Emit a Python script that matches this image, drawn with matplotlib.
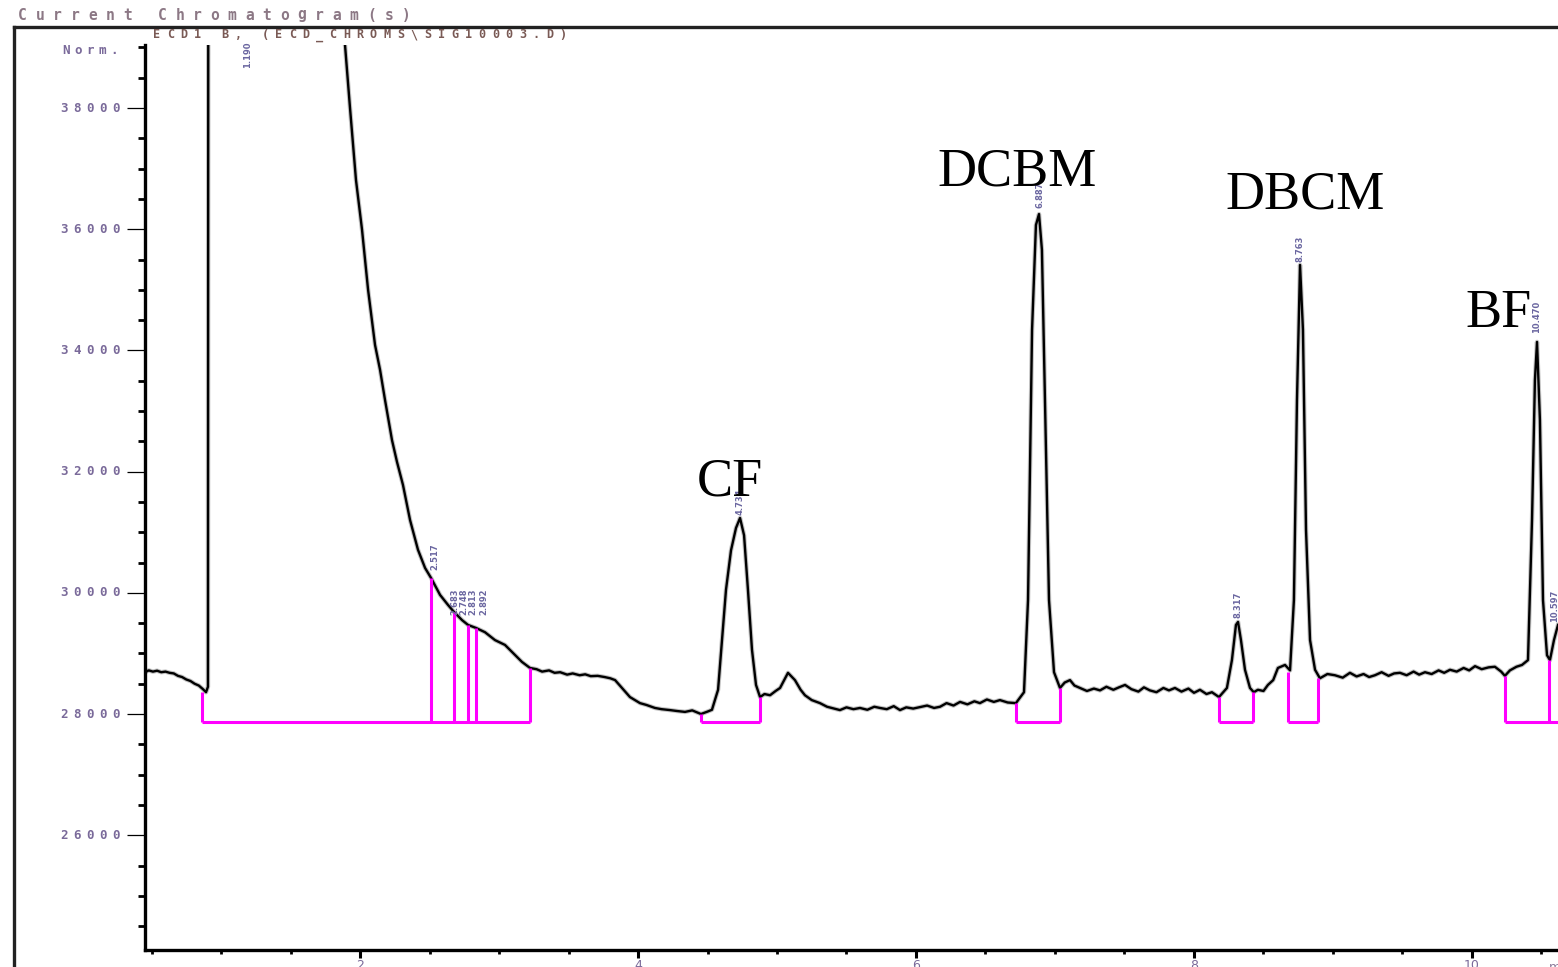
import numpy as np
import matplotlib
matplotlib.use("Agg")
import matplotlib.pyplot as plt
from matplotlib.lines import Line2D
from matplotlib.ticker import MultipleLocator
import matplotlib.transforms as mtransforms

# retention time (min) / detector signal (Norm.)
ret_time = [0.453, 0.48, 0.51, 0.54, 0.57, 0.60, 0.63, 0.66, 0.69, 0.72, 0.75, 0.78, 0.81, 0.84, 0.87, 0.892, 0.906, 0.912,
            1.880, 1.892, 1.928, 1.971, 2.014, 2.058, 2.108, 2.144, 2.180, 2.230, 2.266, 2.309, 2.360, 2.417, 2.468, 2.511,
            2.545, 2.576, 2.633, 2.676, 2.734, 2.777, 2.835, 2.899, 2.971, 3.043, 3.115, 3.165, 3.223,
            3.27, 3.31, 3.36, 3.40, 3.44, 3.49, 3.53, 3.58, 3.62, 3.66, 3.71, 3.76, 3.80, 3.835, 3.885, 3.942,
            4.014, 4.06, 4.122, 4.17, 4.230, 4.28, 4.338, 4.39, 4.453, 4.50, 4.532,
            4.576, 4.604, 4.633, 4.669, 4.705, 4.734, 4.763, 4.791, 4.820, 4.849, 4.878,
            4.91, 4.950, 4.99, 5.022, 5.079, 5.129, 5.17, 5.201, 5.25, 5.309, 5.36, 5.41, 5.453, 5.50, 5.55,
            5.597, 5.65, 5.70, 5.741, 5.79, 5.84, 5.885, 5.93, 5.98, 6.029, 6.08, 6.13, 6.173, 6.22, 6.27,
            6.317, 6.37, 6.42, 6.460, 6.51, 6.56, 6.604, 6.66, 6.719,
            6.777, 6.806, 6.835, 6.863, 6.885, 6.906, 6.928, 6.957, 6.993, 7.036,
            7.07, 7.108, 7.14, 7.180, 7.23, 7.28, 7.324, 7.37, 7.42, 7.46, 7.504, 7.55, 7.60, 7.64, 7.683,
            7.73, 7.78, 7.82, 7.863, 7.91, 7.96, 8.00, 8.043, 8.09, 8.129, 8.180,
            8.237, 8.273, 8.302, 8.317, 8.338, 8.367, 8.403, 8.43, 8.460, 8.50, 8.532, 8.57, 8.604, 8.655, 8.691,
            8.719, 8.741, 8.763, 8.784, 8.806, 8.835, 8.871, 8.906,
            8.96, 9.014, 9.07, 9.122, 9.17, 9.22, 9.26, 9.302, 9.35, 9.40, 9.44, 9.482, 9.53, 9.58, 9.62,
            9.662, 9.71, 9.76, 9.80, 9.842, 9.89, 9.94, 9.98, 10.022, 10.07, 10.12, 10.165, 10.21, 10.237,
            10.273, 10.32, 10.360, 10.403, 10.432, 10.453, 10.468, 10.489, 10.511, 10.540, 10.561, 10.590, 10.619]
signal = [28690, 28720, 28700, 28715, 28690, 28700, 28680, 28670, 28630, 28610, 28570, 28545, 28500, 28470, 28410, 28360, 28450, 60000,
          60000, 39040, 38000, 36810, 36000, 35000, 34090, 33680, 33180, 32520, 32160, 31780, 31200, 30710, 30410, 30245,
          30100, 29965, 29800, 29685, 29550, 29470, 29420, 29350, 29220, 29140, 28975, 28860, 28760,
          28740, 28700, 28720, 28680, 28690, 28650, 28670, 28640, 28655, 28625, 28630, 28610, 28590, 28560, 28430, 28280,
          28180, 28150, 28100, 28080, 28065, 28050, 28035, 28060, 28000, 28040, 28070,
          28400, 29220, 30050, 30700, 31070, 31235, 30950, 30050, 29060, 28480, 28280,
          28330, 28310, 28380, 28430, 28680, 28560, 28400, 28310, 28230, 28180, 28120, 28090, 28065, 28110, 28080,
          28100, 28070, 28120, 28100, 28080, 28130, 28065, 28110, 28090, 28115, 28140, 28100, 28120, 28180, 28140,
          28200, 28160, 28210, 28180, 28240, 28200, 28230, 28190, 28180,
          28360, 29880, 34340, 36070, 36250, 35660, 33180, 29880, 28690, 28430,
          28520, 28560, 28470, 28430, 28380, 28420, 28390, 28450, 28400, 28440, 28480, 28410, 28370, 28440, 28390,
          28360, 28430, 28390, 28430, 28370, 28420, 28350, 28400, 28330, 28360, 28280,
          28430, 28890, 29470, 29520, 29220, 28730, 28430, 28360, 28400, 28380, 28480, 28560, 28760, 28810, 28720,
          29880, 33180, 35410, 34340, 31040, 29220, 28730, 28590,
          28660, 28640, 28600, 28680, 28620, 28660, 28610, 28640, 28690, 28630, 28670, 28680, 28640, 28700, 28650,
          28690, 28660, 28720, 28680, 28730, 28700, 28760, 28720, 28790, 28740, 28770, 28780, 28700, 28630,
          28720, 28780, 28810, 28890, 31200, 33510, 34140, 32850, 29880, 28970, 28890, 29220, 29470]

# integration marks (magenta)
mark_time = [0.863, 2.511, 2.676, 2.777, 2.835, 3.223, 4.453, 4.878, 6.719, 7.036,
             8.180, 8.424, 8.676, 8.892, 10.237, 10.554]
mark_top = [28363, 30244, 29683, 29469, 29419, 28759, 28000, 28281, 28182, 28429,
            28281, 28363, 28693, 28594, 28627, 28891]
base_start = [0.863, 4.453, 6.719, 8.180, 8.676, 10.237]
base_end = [3.223, 4.878, 7.036, 8.424, 8.892, 10.65]
base_level = 27870

# retention time labels above peaks
rt_text = ['1.190', '2.517', '2.683', '2.748', '2.813', '2.892', '4.734', '6.887', '8.317', '8.763', '10.470', '10.597']
rt_x = [1.194, 2.540, 2.683, 2.748, 2.813, 2.892, 4.734, 6.892, 8.317, 8.763, 10.468, 10.597]
rt_y = [38660, 30380, 29630, 29630, 29630, 29630, 31280, 36350, 29580, 35460, 34290, 29520]

# compound names
compounds = ['CF', 'DCBM', 'DBCM', 'BF']
comp_x = [4.424, 6.151, 8.223, 9.950]
comp_y = [31613, 36729, 36349, 34385]

yticks = [26000, 28000, 30000, 32000, 34000, 36000, 38000]
xticks = [2, 4, 6, 8, 10]

W, H = 1558, 967
fig = plt.figure(figsize=(W / 100, H / 100), dpi=100)
ax = fig.add_axes([145 / W, 1 - 950 / H, 1 - 145 / W, (950 - 45) / H])

ax.plot(ret_time, signal, color='#9a9a9a', lw=3.2, alpha=0.6, solid_joinstyle='round')
ax.plot(ret_time, signal, color='black', lw=1.7, solid_joinstyle='round')

mag = '#ff00ff'
ax.vlines(mark_time, base_level, mark_top, color=mag, lw=2.2)
ax.hlines([base_level] * len(base_start), base_start, base_end, color=mag, lw=2.2)

for t, s, y in zip(rt_x, rt_text, rt_y):
    ax.text(t, y, s, rotation=90, ha='center', va='bottom', fontsize=6,
            color='#6a66a0', family='DejaVu Sans', fontweight='bold')

for name, x, y in zip(compounds, comp_x, comp_y):
    ax.text(x, y, name, ha='left', va='baseline', fontsize=39,
            family='Liberation Serif', color='black')

ax.set_xlim(0.453, 10.619)
ax.set_ylim(24106, 39040)
for s in ['top', 'right']:
    ax.spines[s].set_visible(False)
for s in ['left', 'bottom']:
    ax.spines[s].set_linewidth(2.4)

ax.set_yticks(yticks)
ax.yaxis.set_minor_locator(MultipleLocator(500))
ax.tick_params(axis='y', which='major', length=13, width=0.9, labelleft=False)
ax.tick_params(axis='y', which='minor', length=5, width=2.0)
ax.set_xticks(xticks)
ax.set_xticklabels([str(v) for v in xticks])
ax.xaxis.set_minor_locator(MultipleLocator(0.5))
ax.tick_params(axis='x', which='major', length=6, width=2.2, pad=0.5, labelsize=9, labelcolor='#7a6a9a')
ax.tick_params(axis='x', which='minor', length=3, width=2.0)
ax.text(10.55, -0.012, 'min', transform=mtransforms.blended_transform_factory(ax.transData, ax.transAxes),
        ha='left', va='top', fontsize=9, color='#8a7a9a')


def spaced(x0, x1, y, s, trans, color, size):
    # stretched screen-font look: spread characters evenly between x0 and x1 (pixels)
    step = (x1 - x0) / len(s)
    for i, ch in enumerate(s):
        fig.text(x0 + step * (i + 0.5), y, ch, transform=trans, ha='center', va='center',
                 fontsize=size, color=color, family='DejaVu Sans Mono', fontweight='bold')


pix = mtransforms.Affine2D().scale(1, -1).translate(0, H)
pix_y = mtransforms.blended_transform_factory(mtransforms.IdentityTransform(), ax.transData)

spaced(14, 415, 15, 'Current Chromatogram(s)', pix, '#8c7885', 10.5)
spaced(150, 570, 35, 'ECD1 B, (ECD_CHROMS\\SIG10003.D)', pix, '#7a5a55', 8.5)
spaced(60, 120, 50, 'Norm.', pix, '#7a6a9a', 9)
for v in yticks:
    spaced(58, 122, v, str(v), pix_y, '#7a6a9a', 9)

# outer window frame
fig.add_artist(Line2D([14, 14], [H - 27, 0], transform=mtransforms.IdentityTransform(), color='#222222', lw=2.4))
fig.add_artist(Line2D([14, W], [H - 27, H - 27], transform=mtransforms.IdentityTransform(), color='#222222', lw=2.4))

fig.savefig('out.png', dpi=100)
